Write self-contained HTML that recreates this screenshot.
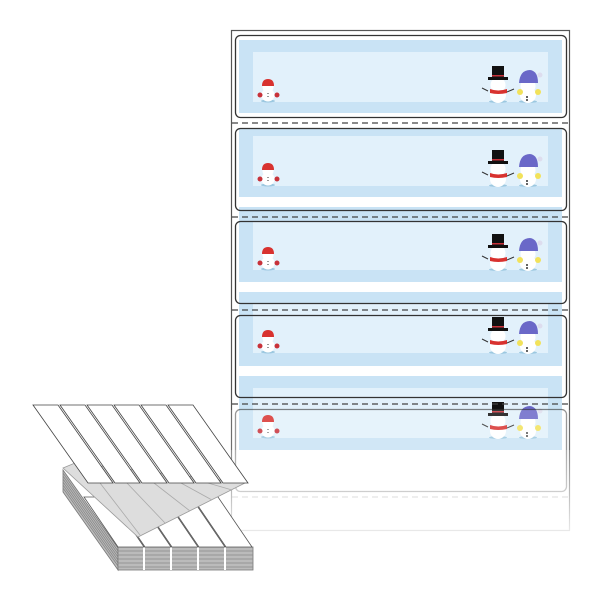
<!DOCTYPE html>
<html><head><style>
html,body{margin:0;padding:0;background:#fff;width:600px;height:600px;overflow:hidden}
</style></head><body>
<svg width="600" height="600" viewBox="0 0 600 600" xmlns="http://www.w3.org/2000/svg">
<defs>
<g id="sm">
  <ellipse cx="268" cy="101" rx="7" ry="1.5" fill="#9cc8e0"/>
  <circle cx="268" cy="95" r="6.5" fill="#fff"/>
  <circle cx="268" cy="87" r="5.5" fill="#fff"/>
  <path d="M262 86 Q262 79 268 79 Q274 79 274 86 Z" fill="#d8322f"/>
  <circle cx="260" cy="95" r="2.5" fill="#c8323a"/>
  <circle cx="277" cy="95" r="2.5" fill="#c8323a"/>
  <rect x="267.5" y="93" width="1" height="1" fill="#333"/><rect x="267.5" y="96" width="1" height="1" fill="#333"/>
  <ellipse cx="498" cy="101.5" rx="9" ry="1.5" fill="#9cc8e0"/>
  <circle cx="498" cy="95" r="8" fill="#fff"/>
  <circle cx="498" cy="85" r="7.5" fill="#fff"/>
  <rect x="492" y="66" width="12" height="12" fill="#111"/>
  <rect x="488" y="77" width="20" height="3" fill="#111"/>
  <rect x="492" y="75" width="12" height="1.5" fill="#c8323a"/>
  <path d="M490 89 Q498 92 507 89 L507 93 Q498 95 490 93 Z" fill="#d8322f"/>
  <line x1="488" y1="91" x2="482" y2="88" stroke="#333" stroke-width="1"/>
  <line x1="507" y1="92" x2="514" y2="89" stroke="#333" stroke-width="1"/>
  <ellipse cx="528" cy="101.5" rx="9" ry="1.5" fill="#9cc8e0"/>
  <circle cx="528" cy="95" r="8" fill="#fff"/>
  <circle cx="528" cy="86" r="7.5" fill="#fff"/>
  <path d="M519 83 Q520 70 530 70 Q538 71 538 83 Z" fill="#6a68c8"/>
  <circle cx="540" cy="75" r="2.5" fill="#dde"/>
  <circle cx="520" cy="92" r="3" fill="#f2e25a"/>
  <circle cx="538" cy="92" r="3" fill="#f2e25a"/>
  <circle cx="527" cy="97" r="1" fill="#333"/><circle cx="527" cy="100" r="1" fill="#333"/>
</g>
<linearGradient id="fade" x1="0" y1="0" x2="0" y2="1">
  <stop offset="0" stop-color="#fff" stop-opacity="0.3"/>
  <stop offset="1" stop-color="#fff" stop-opacity="0.9"/>
</linearGradient>
</defs>

<rect x="231.5" y="30.5" width="338" height="500" fill="#fff" stroke="#555" stroke-width="1.2"/>
<g>
  <rect x="239" y="40" width="323" height="73" fill="#c9e3f5"/><rect x="253" y="52" width="295" height="50" fill="#e2f1fb"/>
  <rect x="239" y="128" width="323" height="69" fill="#c9e3f5"/><rect x="253" y="136" width="295" height="50" fill="#e2f1fb"/>
  <rect x="239" y="207" width="323" height="75" fill="#c9e3f5"/><rect x="253" y="222" width="295" height="48" fill="#e2f1fb"/>
  <rect x="239" y="292" width="323" height="74" fill="#c9e3f5"/><rect x="253" y="303" width="295" height="50" fill="#e2f1fb"/>
  <rect x="239" y="376" width="323" height="74" fill="#c9e3f5"/><rect x="253" y="388" width="295" height="50" fill="#e2f1fb"/>
</g>
<use href="#sm"/>
<use href="#sm" transform="translate(0,84)"/>
<use href="#sm" transform="translate(0,168)"/>
<use href="#sm" transform="translate(0,251)"/>
<use href="#sm" transform="translate(0,336)"/>
<g fill="none" stroke="#333" stroke-width="1.3">
  <rect x="235.5" y="35.5" width="331" height="82" rx="5"/>
  <rect x="235.5" y="128.5" width="331" height="82" rx="5"/>
  <rect x="235.5" y="221.5" width="331" height="82" rx="5"/>
  <rect x="235.5" y="315.5" width="331" height="82" rx="5"/>
  <rect x="235.5" y="409.5" width="331" height="82" rx="5" opacity="0.6"/>
</g>
<g stroke="#444" stroke-width="1.2" stroke-dasharray="6,4">
  <line x1="232" y1="123" x2="570" y2="123"/>
  <line x1="232" y1="217" x2="570" y2="217"/>
  <line x1="232" y1="310" x2="570" y2="310"/>
  <line x1="232" y1="404" x2="570" y2="404"/>
  <line x1="232" y1="497" x2="570" y2="497" opacity="0.4"/>
</g>
<rect x="228" y="450" width="346" height="85" fill="url(#fade)"/>
<rect x="228" y="410" width="346" height="40" fill="#fff" opacity="0.15"/>

<g stroke="#777" stroke-width="0.8">
  <polygon points="63,470 118,548 118,570 63,492" fill="#bbb"/>
  <g fill="none" stroke="#888">
    <path d="M63,473 L118,551"/><path d="M63,476 L118,554"/><path d="M63,479 L118,557"/><path d="M63,482 L118,560"/><path d="M63,485 L118,563"/><path d="M63,488 L118,566"/>
  </g>
  <rect x="118" y="547" width="135" height="23" fill="#bbb"/>
  <g stroke="#888"><line x1="118" y1="551" x2="253" y2="551"/><line x1="118" y1="555" x2="253" y2="555"/><line x1="118" y1="559" x2="253" y2="559"/><line x1="118" y1="563" x2="253" y2="563"/><line x1="118" y1="567" x2="253" y2="567"/></g>
  <g stroke="#fff" stroke-width="2"><line x1="144" y1="547" x2="144" y2="570"/><line x1="171" y1="547" x2="171" y2="570"/><line x1="198" y1="547" x2="198" y2="570"/><line x1="225" y1="547" x2="225" y2="570"/></g>
  <g fill="#fff" stroke="#555">
    <polygon points="118,547 144,547 110,497 84,497"/>
    <polygon points="145,547 171,547 137,497 111,497"/>
    <polygon points="172,547 198,547 164,497 138,497"/>
    <polygon points="199,547 225,547 191,497 165,497"/>
    <polygon points="226,547 252,547 218,497 192,497"/>
  </g>
  <polygon points="63,468 75,463 245,483 138,537" fill="#ddd" stroke="#999"/>
  <g stroke="#aaa" fill="none"><line x1="100" y1="483" x2="140" y2="535"/><line x1="127" y1="483" x2="165" y2="523"/><line x1="154" y1="483" x2="190" y2="511"/><line x1="181" y1="483" x2="212" y2="500"/><line x1="208" y1="483" x2="232" y2="490"/></g>
  <g fill="#fff" stroke="#444">
    <polygon points="33,405 58,405 113,483 88,483"/>
    <polygon points="60,405 85,405 140,483 115,483"/>
    <polygon points="87,405 112,405 167,483 142,483"/>
    <polygon points="114,405 139,405 194,483 169,483"/>
    <polygon points="141,405 166,405 221,483 196,483"/>
    <polygon points="168,405 193,405 248,483 223,483"/>
  </g>
</g>
</svg>
</body></html>
